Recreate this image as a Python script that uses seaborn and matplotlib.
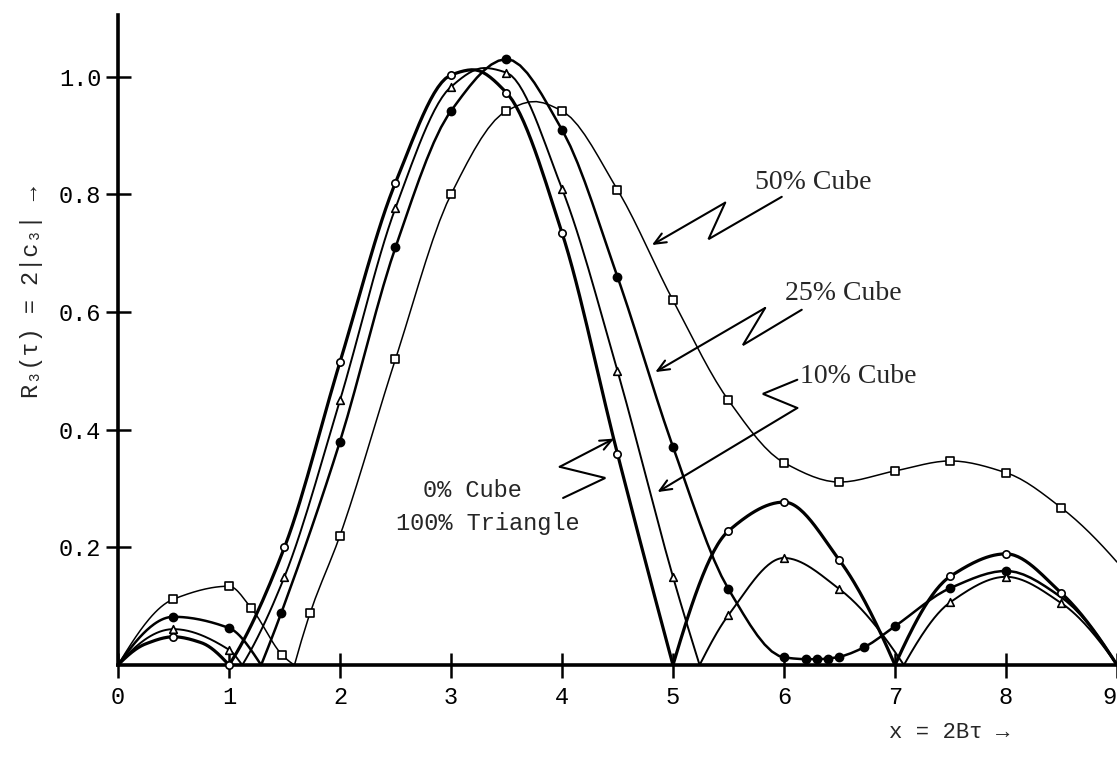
import numpy as np
import matplotlib
matplotlib.use("Agg")
import matplotlib.pyplot as plt
import seaborn as sns

# ---- data: R3(tau) curves for four cube/triangle mixtures ----
# mark flag: 1 = plotted symbol, 0 = curve knot only
x_0pct = [0.0, 0.25, 0.5, 0.75, 1.0, 1.5, 2.0, 2.5, 3.0, 3.2, 3.5, 4.0, 4.5, 5.0,
          5.5, 6.0, 6.5, 7.0, 7.5, 8.0, 8.5, 9.0]
y_0pct = [0.0, 0.036, 0.048, 0.038, 0.0, 0.20, 0.515, 0.82, 1.003, 1.012, 0.973, 0.735, 0.359, 0.0,
          0.228, 0.277, 0.178, 0.0, 0.151, 0.189, 0.122, 0.0]
m_0pct = [0, 0, 1, 0, 1, 1, 1, 1, 1, 0, 1, 1, 1, 0,
          1, 1, 1, 0, 1, 1, 1, 0]

x_10pct = [0.0, 0.5, 1.0, 1.12, 1.5, 2.0, 2.5, 3.0, 3.3, 3.5, 4.0, 4.5, 5.0, 5.24,
           5.5, 6.0, 6.5, 7.08, 7.5, 8.0, 8.5, 9.0]
y_10pct = [0.0, 0.061, 0.026, 0.0, 0.15, 0.45, 0.777, 0.983, 1.015, 1.007, 0.81, 0.50, 0.15, 0.0,
           0.085, 0.182, 0.129, 0.0, 0.107, 0.15, 0.105, 0.0]
m_10pct = [0, 1, 1, 0, 1, 1, 1, 1, 0, 1, 1, 1, 1, 0,
           1, 1, 1, 0, 1, 1, 1, 0]

x_25pct = [0.0, 0.5, 1.0, 1.29, 1.47, 2.0, 2.5, 3.0, 3.5, 4.0, 4.5, 5.0, 5.5, 6.0,
           6.2, 6.3, 6.4, 6.5, 6.72, 7.0, 7.5, 8.0, 8.5, 9.0]
y_25pct = [0.0, 0.082, 0.063, 0.0, 0.088, 0.38, 0.71, 0.942, 1.03, 0.91, 0.66, 0.371, 0.129, 0.013,
           0.010, 0.010, 0.011, 0.014, 0.030, 0.066, 0.131, 0.16, 0.115, 0.0]
m_25pct = [0, 1, 1, 0, 1, 1, 1, 1, 1, 1, 1, 1, 1, 1,
           1, 1, 1, 1, 1, 1, 1, 1, 0, 0]

x_50pct = [0.0, 0.5, 1.0, 1.2, 1.48, 1.59, 1.73, 2.0, 2.5, 3.0, 3.5, 3.75, 4.0, 4.5,
           5.0, 5.5, 6.0, 6.5, 7.0, 7.5, 8.0, 8.5, 9.0]
y_50pct = [0.0, 0.112, 0.134, 0.097, 0.017, 0.0, 0.088, 0.22, 0.52, 0.80, 0.942, 0.958, 0.942, 0.808,
           0.62, 0.45, 0.344, 0.311, 0.33, 0.347, 0.327, 0.267, 0.175]
m_50pct = [0, 1, 1, 1, 1, 0, 1, 1, 1, 1, 1, 0, 1, 1,
           1, 1, 1, 1, 1, 1, 1, 1, 0]

x_ticks = [0, 1, 2, 3, 4, 5, 6, 7, 8, 9]
y_ticks = [0.2, 0.4, 0.6, 0.8, 1.0]
y_tick_labels = ["0.2", "0.4", "0.6", "0.8", "1.0"]


def pchip(x, y, xs):
    """Shape-preserving cubic through the knots (no overshoot below zero)."""
    x = np.asarray(x, float)
    y = np.asarray(y, float)
    h = np.diff(x)
    d = np.diff(y) / h
    n = len(x)
    m = np.zeros(n)
    if n == 2:
        m[:] = d[0]
    else:
        for k in range(1, n - 1):
            if d[k - 1] * d[k] > 0:
                w1 = 2 * h[k] + h[k - 1]
                w2 = h[k] + 2 * h[k - 1]
                m[k] = (w1 + w2) / (w1 / d[k - 1] + w2 / d[k])

        def end(h0, h1, d0, d1):
            t = ((2 * h0 + h1) * d0 - h0 * d1) / (h0 + h1)
            if np.sign(t) != np.sign(d0):
                t = 0.0
            elif np.sign(d0) != np.sign(d1) and abs(t) > abs(3 * d0):
                t = 3 * d0
            return t

        m[0] = end(h[0], h[1], d[0], d[1])
        m[-1] = end(h[-1], h[-2], d[-1], d[-2])
    idx = np.clip(np.searchsorted(x, xs) - 1, 0, n - 2)
    t = (xs - x[idx]) / h[idx]
    h00 = 2 * t**3 - 3 * t**2 + 1
    h10 = t**3 - 2 * t**2 + t
    h01 = -2 * t**3 + 3 * t**2
    h11 = t**3 - t**2
    return h00 * y[idx] + h10 * h[idx] * m[idx] + h01 * y[idx + 1] + h11 * h[idx] * m[idx + 1]


def smooth_curve(x, y):
    """Smooth each lobe separately so the zeros stay sharp cusps."""
    x = np.asarray(x, float)
    y = np.asarray(y, float)
    cuts = [0] + [i for i in range(1, len(x) - 1) if y[i] == 0] + [len(x) - 1]
    xs_all, ys_all = [], []
    for a, b in zip(cuts[:-1], cuts[1:]):
        xs = np.linspace(x[a], x[b], 120)
        xs_all.append(xs)
        ys_all.append(np.maximum(pchip(x[a:b + 1], y[a:b + 1], xs), 0))
    return np.concatenate(xs_all), np.concatenate(ys_all)


sns.set_theme(style="ticks")
plt.rcParams["font.family"] = ["Liberation Mono", "DejaVu Sans Mono", "DejaVu Sans"]

fig = plt.figure(figsize=(11.17, 7.8), dpi=100)
ax = fig.add_axes([0.1056, 0.1474, 0.8944, 0.8333])

series = [
    (x_50pct, y_50pct, m_50pct, 1.1, "s", "white", 34),
    (x_25pct, y_25pct, m_25pct, 1.8, "o", "black", 34),
    (x_10pct, y_10pct, m_10pct, 1.4, "^", "white", 30),
    (x_0pct, y_0pct, m_0pct, 2.3, "o", "white", 28),
]
for xv, yv, mv, lw, mk, face, size in series:
    xs, ys = smooth_curve(xv, yv)
    sns.lineplot(x=xs, y=ys, sort=False, estimator=None, color="black",
                 linewidth=lw, ax=ax, zorder=3, clip_on=False)
    sel = np.asarray(mv, bool)
    sns.scatterplot(x=np.asarray(xv)[sel], y=np.asarray(yv)[sel], marker=mk, s=size,
                    color=face, edgecolor="black", linewidth=1.2, ax=ax,
                    zorder=5, clip_on=False, legend=False)

ax.set_xlim(0, 9)
ax.set_ylim(0, 1.105)
ax.set_xticks(x_ticks)
ax.set_xticklabels([str(v) for v in x_ticks])
ax.set_yticks(y_ticks)
ax.set_yticklabels(y_tick_labels)
ax.tick_params(axis="both", direction="inout", length=18, width=1.8,
               labelsize=17, colors="black")
ax.tick_params(axis="x", pad=6)
ax.tick_params(axis="y", pad=3)
ax.get_xticklabels()[-1].set_horizontalalignment("right")
for side in ("top", "right"):
    ax.spines[side].set_visible(False)
for side in ("left", "bottom"):
    ax.spines[side].set_linewidth(2.6)
    ax.spines[side].set_color("black")
ax.set_xlabel("")
ax.set_ylabel("")


def zigzag(pts, lw=1.5):
    px = [p[0] for p in pts[:-1]]
    py = [p[1] for p in pts[:-1]]
    ax.plot(px, py, color="black", lw=lw, solid_joinstyle="miter", zorder=6)
    ax.annotate("", xy=pts[-1], xytext=pts[-2],
                arrowprops=dict(arrowstyle="->,head_length=0.7,head_width=0.3",
                                color="black", lw=lw, shrinkA=0, shrinkB=0),
                zorder=6)


serif = ["Liberation Serif", "DejaVu Serif"]
ax.text(5.74, 0.82, "50% Cube", fontsize=20, family=serif, ha="left", va="center")
zigzag([(5.98, 0.796), (5.32, 0.724), (5.47, 0.786), (4.81, 0.714)])

ax.text(6.01, 0.631, "25% Cube", fontsize=20, family=serif, ha="left", va="center")
zigzag([(6.16, 0.604), (5.63, 0.544), (5.83, 0.607), (4.84, 0.498)])

ax.text(6.14, 0.491, "10% Cube", fontsize=20, family=serif, ha="left", va="center")
zigzag([(6.12, 0.485), (5.81, 0.461), (6.12, 0.437), (4.86, 0.294)])

ax.text(3.19, 0.296, "0% Cube", fontsize=17, ha="center", va="center")
ax.text(3.33, 0.241, "100% Triangle", fontsize=17, ha="center", va="center")
zigzag([(4.01, 0.284), (4.39, 0.318), (3.98, 0.337), (4.47, 0.385)])

ax.text(6.95, -0.114, "x = 2Bτ →", fontsize=16, ha="left", va="center", clip_on=False)
fig.text(0.0286, 0.626, "R₃(τ) = 2|c₃| →", fontsize=17, rotation=90,
         ha="center", va="center")

fig.savefig("out.png", dpi=100, facecolor="white")
